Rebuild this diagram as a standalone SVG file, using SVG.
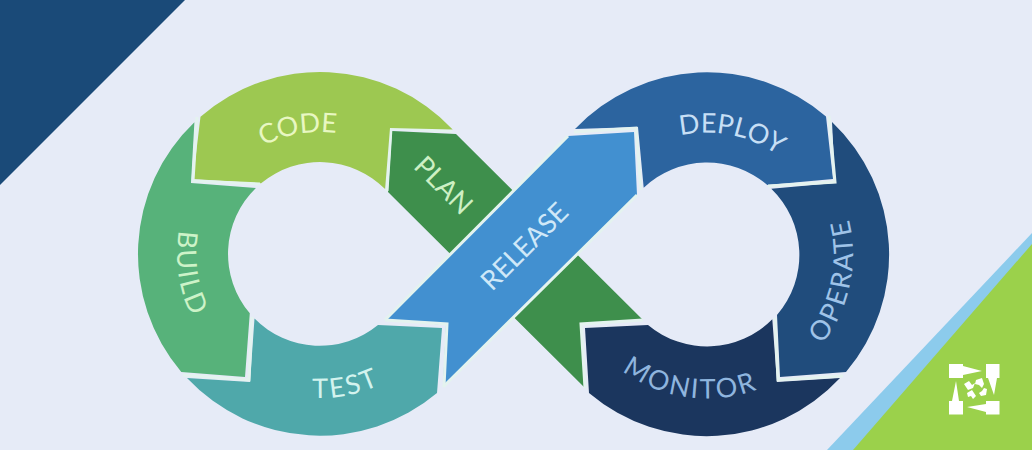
<svg xmlns="http://www.w3.org/2000/svg" width="1032" height="450" viewBox="0 0 1032 450">
<style>
text{font-family:Lato,"Open Sans","Liberation Sans",sans-serif;font-size:27px;text-anchor:middle}
.gap{fill:none;stroke:#e4f3ef;stroke-width:3;stroke-linejoin:miter}
.ls{letter-spacing:2.2px}
</style>
<defs>
<path id="top122" d="M-122,0A122,122 0 0 1 122,0"/>
<path id="low143" d="M-143,0A143,143 0 0 0 143,0"/>
<path id="low144" d="M-144,0A144,144 0 0 0 144,0"/>
<path id="low146" d="M-146,0A146,146 0 0 0 146,0"/>
</defs>
<rect width="1032" height="450" fill="#e6ebf7"/>
<polygon points="0,0 185,0 0,185" fill="#1a4a78"/>
<polygon points="1032,233 1032,450 827,450" fill="#8ccbec"/>
<polygon points="1032,244 1032,450 853,450" fill="#9bd14b"/>
<g id="logo" fill="#fff">
<path d="M949,364H963V366L982,371L963,375V378H949Z"/>
<path d="M986,364H999.500V378H997L994,395L988,378H986Z"/>
<path d="M999.500,414.500H986V412L967,407L986,404V401H999.500Z"/>
<path d="M949,414.500V401H952L956,381L959,401H963V414.500Z"/>
<path d="M964,384L969,381L972,385L975,383L973,388L968,390Z"/>
<path d="M976,380L982,378L984,384L982,388L979,385L975,384Z"/>
<path d="M987,389L986,395L981,396L979,393L982,391L984,388Z"/>
<path d="M967,393L972,390L976,396L973,399L971,396L968,397Z"/>
</g>
<g id="plan">
<path d="M392,131L456,134L643,320L581,324L584,387L388,192Z" fill="#3e8f4c"/>
<path class="gap" d="M452,131L391,128L387,191"/>
<text transform="translate(437,192) rotate(45)" fill="#cdf0c4">PLAN</text>
</g>
<g id="code">
<path d="M200.500,116.700A182,182 0 0 1 452.700,129.400L390,128L385.100,189.100A92,92 0 0 0 261.100,183.300L193,179Z" fill="#9dc851"/>
<text transform="translate(320 254) rotate(-10)" fill="#e8f7c2"><textPath href="#top122" startOffset="50%">CODE</textPath></text>
</g>
<g id="build">
<path d="M194.400,122.300A182,182 0 0 0 181.300,371.900L245,377L249.800,313.300A92,92 0 0 1 255.900,187.900L191,183Z" fill="#57b27a"/>
<path class="gap" d="M197,117L193,181L260,184"/>
<text class="ls" transform="translate(320 254) rotate(81.500)" fill="#cdf3c8"><textPath href="#low143" startOffset="50%">BUILD</textPath></text>
</g>
<g id="test">
<path d="M187,378L250,382L254.500,318.600A92,92 0 0 0 378,325L442,328L437,393A182,182 0 0 1 187,378Z" fill="#4fa8aa"/>
<path class="gap" d="M183,375L249,380L252,317"/>
<text class="ls" transform="translate(320 254) rotate(-11)" fill="#d3f3ee"><textPath href="#low144" startOffset="50%">TEST</textPath></text>
</g>
<g id="monitor">
<path d="M589,393L585,328L648,325A92,92 0 0 0 772.300,319.300L777,382L840,378A182,182 0 0 1 589,393Z" fill="#1b365e"/>
<path class="gap" d="M643,320L581,324L585,388"/>
<text class="ls" transform="translate(707 254.500) rotate(7.500)" fill="#8fb5de"><textPath href="#low144" startOffset="50%">MONITOR</textPath></text>
</g>
<g id="operate">
<path d="M832,122A182,182 0 0 1 846,372L780,377L777,315A92,92 0 0 0 771.300,188.700L835,183Z" fill="#204c7c"/>
<path class="gap" d="M775,318L778,380L843,376"/>
<text class="ls" transform="translate(707 254.500) rotate(-78.500)" fill="#9fc3e8"><textPath href="#low146" startOffset="50%">OPERATE</textPath></text>
</g>
<g id="deploy">
<path d="M575,129A182,182 0 0 1 826,116.500L833,179L767.300,185A92,92 0 0 0 643.700,187.800L638,127Z" fill="#2c649f"/>
<path class="gap" d="M829,116L835,182L768,186"/>
<text transform="translate(707 254.500) rotate(11.500)" fill="#c7dff5"><textPath href="#top122" startOffset="50%">DEPLOY</textPath></text>
</g>
<g id="release">
<path d="M385,320L446,325L443,387L637,195L634,132L568,136Z" fill="#4290d0"/>
<path class="gap" d="M385,320L568,136M443,387L637,195"/>
<path class="gap" d="M574,132L636,128L641,190"/>
<path class="gap" d="M385,320L447,324L444,387"/>
<text transform="translate(531,253) rotate(-45)" fill="#cfe8f8">RELEASE</text>
</g>
</svg>
